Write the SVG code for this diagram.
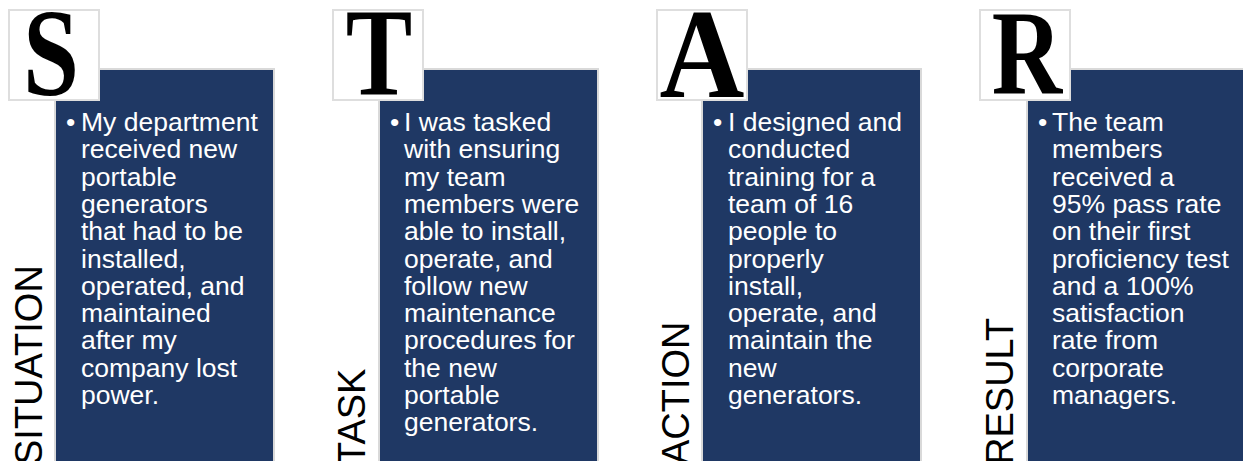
<svg xmlns="http://www.w3.org/2000/svg" width="1243" height="461" viewBox="0 0 1243 461">
<style>
.panel{fill:#1f3864;stroke:#d9d9d9;stroke-width:2}
.lbox{fill:#ffffff;stroke:#dedede;stroke-width:2}
.letter{font-family:"Liberation Serif","Times New Roman",serif;font-weight:bold;font-size:112px;fill:#000;text-anchor:middle}
.body{font-family:"Liberation Sans",Arial,sans-serif;font-size:26.5px;fill:#ffffff}
.vlabel{font-family:"Liberation Sans",Arial,sans-serif;font-size:38px;fill:#000}
</style>
<rect width="1243" height="461" fill="#ffffff"/>
<g id="situation">
<rect class="panel" x="55" y="69" width="219" height="400"/>
<rect class="lbox" x="9" y="10" width="90" height="90"/>
<text class="letter" transform="translate(51,95) scale(0.9,1.12)">S</text>
<text class="vlabel" transform="translate(42,465) rotate(-90)">SITUATION</text>
<text class="body"><tspan x="66" y="131">•</tspan><tspan x="81" y="131">My department</tspan><tspan x="81" y="158.3">received new</tspan><tspan x="81" y="185.6">portable</tspan><tspan x="81" y="212.9">generators</tspan><tspan x="81" y="240.2">that had to be</tspan><tspan x="81" y="267.5">installed,</tspan><tspan x="81" y="294.8">operated, and</tspan><tspan x="81" y="322.1">maintained</tspan><tspan x="81" y="349.4">after my</tspan><tspan x="81" y="376.7">company lost</tspan><tspan x="81" y="404">power.</tspan></text>
</g>
<g id="task">
<rect class="panel" x="379" y="69" width="219" height="400"/>
<rect class="lbox" x="333" y="10" width="90" height="90"/>
<text class="letter" transform="translate(379,95) scale(0.89,1.12)">T</text>
<text class="vlabel" transform="translate(365,465) rotate(-90)">TASK</text>
<text class="body"><tspan x="390" y="131">•</tspan><tspan x="404" y="131">I was tasked</tspan><tspan x="404" y="158.3">with ensuring</tspan><tspan x="404" y="185.6">my team</tspan><tspan x="404" y="212.9">members were</tspan><tspan x="404" y="240.2">able to install,</tspan><tspan x="404" y="267.5">operate, and</tspan><tspan x="404" y="294.8">follow new</tspan><tspan x="404" y="322.1">maintenance</tspan><tspan x="404" y="349.4">procedures for</tspan><tspan x="404" y="376.7">the new</tspan><tspan x="404" y="404">portable</tspan><tspan x="404" y="431.3">generators.</tspan></text>
</g>
<g id="action">
<rect class="panel" x="702" y="69" width="219" height="400"/>
<rect class="lbox" x="657" y="10" width="90" height="90"/>
<text class="letter" transform="translate(702,97) scale(1.05,1.14)">A</text>
<text class="vlabel" transform="translate(689,465) rotate(-90)">ACTION</text>
<text class="body"><tspan x="713" y="131">•</tspan><tspan x="728" y="131">I designed and</tspan><tspan x="728" y="158.3">conducted</tspan><tspan x="728" y="185.6">training for a</tspan><tspan x="728" y="212.9">team of 16</tspan><tspan x="728" y="240.2">people to</tspan><tspan x="728" y="267.5">properly</tspan><tspan x="728" y="294.8">install,</tspan><tspan x="728" y="322.1">operate, and</tspan><tspan x="728" y="349.4">maintain the</tspan><tspan x="728" y="376.7">new</tspan><tspan x="728" y="404">generators.</tspan></text>
</g>
<g id="result">
<rect class="panel" x="1027" y="69" width="230" height="400"/>
<rect class="lbox" x="980" y="10" width="90" height="90"/>
<text class="letter" transform="translate(1027,94) scale(0.87,1.07)">R</text>
<text class="vlabel" transform="translate(1013,465) rotate(-90)">RESULT</text>
<text class="body"><tspan x="1038" y="131">•</tspan><tspan x="1052" y="131">The team</tspan><tspan x="1052" y="158.3">members</tspan><tspan x="1052" y="185.6">received a</tspan><tspan x="1052" y="212.9">95% pass rate</tspan><tspan x="1052" y="240.2">on their first</tspan><tspan x="1052" y="267.5">proficiency test</tspan><tspan x="1052" y="294.8">and a 100%</tspan><tspan x="1052" y="322.1">satisfaction</tspan><tspan x="1052" y="349.4">rate from</tspan><tspan x="1052" y="376.7">corporate</tspan><tspan x="1052" y="404">managers.</tspan></text>
</g>
<g id="connectors"></g>
</svg>
